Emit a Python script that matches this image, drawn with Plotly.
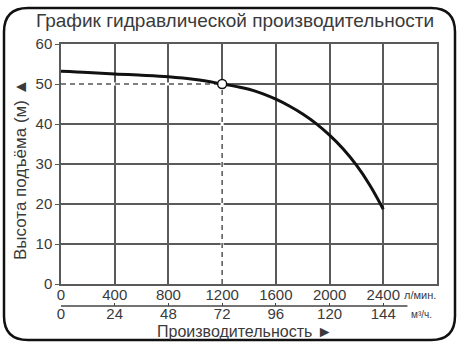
import plotly.graph_objects as go

# Data
flow_lpm = [0, 200, 400, 600, 800, 1000, 1200, 1300, 1400, 1500, 1600, 1700, 1800,
            1900, 2000, 2100, 2200, 2300, 2400]
head_m = [53.2, 52.9, 52.5, 52.2, 51.8, 51.1, 50.0, 49.4, 48.7, 47.6, 46.2, 44.5, 42.5,
          40.1, 37.2, 33.8, 29.7, 24.7, 18.7]
op_flow = 1200
op_head = 50
x_ticks = [0, 400, 800, 1200, 1600, 2000, 2400]
x_ticklabels = ["0", "400", "800", "1200", "1600", "2000", "2400"]
x2_ticklabels = ["0", "24", "48", "72", "96", "120", "144"]
y_ticks = [0, 10, 20, 30, 40, 50, 60]

W, H = 467, 348
L, R, T, B = 61, 437, 44, 284
AX2_Y = 306
FONT = "Liberation Sans, Arial, sans-serif"
TXT = "#3a3a3a"
GRID = "#5a5a5a"

def px(x):
    return x / W

def py(y):
    return 1 - y / H

fig = go.Figure()

# white underlay hiding the grid where the dashed guides run
for xs, ys in (([0, op_flow], [op_head, op_head]), ([op_flow, op_flow], [0, op_head])):
    fig.add_trace(go.Scatter(x=xs, y=ys, mode="lines", line=dict(color="white", width=3),
                             hoverinfo="skip"))
    fig.add_trace(go.Scatter(x=xs, y=ys, mode="lines",
                             line=dict(color="#555", width=1.5, dash="5px,4px"), hoverinfo="skip"))
# curve
fig.add_trace(go.Scatter(x=flow_lpm, y=head_m, mode="lines",
                         line=dict(color="#111", width=3, shape="spline", smoothing=1.0)))
# operating point
fig.add_trace(go.Scatter(x=[op_flow], y=[op_head], mode="markers",
                         marker=dict(size=9, color="white", line=dict(color="#111", width=1.5))))
# secondary axis carrier (invisible)
fig.add_trace(go.Scatter(x=x_ticks, y=[None]*len(x_ticks), xaxis="x2", yaxis="y",
                         mode="markers", hoverinfo="skip"))

# rounded frame
x0, x1, y0, y1, r = 4, 455, 8, 340, 24
path = (f"M {px(x0+r)} {py(y0)} L {px(x1-r)} {py(y0)} Q {px(x1)} {py(y0)} {px(x1)} {py(y0+r)} "
        f"L {px(x1)} {py(y1-r)} Q {px(x1)} {py(y1)} {px(x1-r)} {py(y1)} "
        f"L {px(x0+r)} {py(y1)} Q {px(x0)} {py(y1)} {px(x0)} {py(y1-r)} "
        f"L {px(x0)} {py(y0+r)} Q {px(x0)} {py(y0)} {px(x0+r)} {py(y0)} Z")
fig.add_shape(type="path", path=path, xref="paper", yref="paper",
              line=dict(color="#111", width=2.5), layer="above")
# secondary axis line
fig.add_shape(type="line", xref="x", yref="paper", x0=0, x1=2580,
              y0=py(AX2_Y), y1=py(AX2_Y), line=dict(color="#444", width=1.3))

def ann(text, x, y, size, angle=0):
    return dict(text=text, x=px(x), y=py(y), xref="paper", yref="paper", showarrow=False,
                xanchor="center", yanchor="middle", textangle=angle,
                font=dict(size=size, color=TXT))

fig.update_layout(
    width=W, height=H,
    margin=dict(l=0, r=0, t=0, b=0, autoexpand=False),
    paper_bgcolor="white", plot_bgcolor="white",
    showlegend=False,
    font=dict(family=FONT, color=TXT, size=14),
    xaxis=dict(domain=[px(L), px(R)], range=[0, 2800], tickvals=x_ticks, automargin=False,
               ticktext=x_ticklabels, showgrid=True, gridcolor=GRID, gridwidth=1.5,
               showline=True, linecolor=GRID, linewidth=1.5, mirror=True,
               ticks="", ticklabelstandoff=-4, tickfont=dict(size=15, color=TXT),
               zeroline=False, anchor="y"),
    xaxis2=dict(domain=[px(L), px(R)], range=[0, 2800], tickvals=x_ticks, automargin=False,
                ticktext=x2_ticklabels, overlaying="x", anchor="free",
                position=py(AX2_Y), side="bottom", showgrid=False, showline=False,
                ticks="inside", ticklen=3, tickcolor="#444", ticklabelstandoff=-3,
                tickfont=dict(size=15, color=TXT), zeroline=False),
    yaxis=dict(domain=[py(B), py(T)], range=[0, 60], tickvals=y_ticks, automargin=False,
               showgrid=True, gridcolor=GRID, gridwidth=1.5,
               showline=True, linecolor=GRID, linewidth=1.5, mirror=True,
               ticks="outside", ticklen=4, tickcolor=GRID,
               tickfont=dict(size=15, color=TXT), zeroline=False),
    annotations=[
        ann("График гидравлической производительности", 235, 20, 19),
        ann("Высота подъёма (м) ▲", 20, 170, 17, -90),
        ann("Производительность ►", 245, 331, 16),
        ann("л/мин.", 420, 295, 11),
        ann("м³/ч.", 421, 314, 10),
    ],
)

fig.write_html("out.html")
